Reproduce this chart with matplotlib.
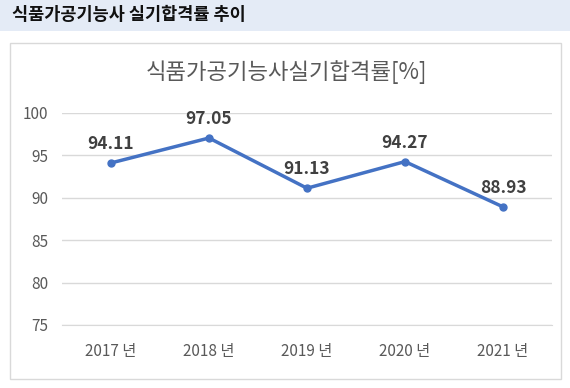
import matplotlib.pyplot as plt
from matplotlib.patches import Rectangle

plt.rcParams['font.family'] = ['Noto Sans CJK KR', 'DejaVu Sans']

years = ["2017 년", "2018 년", "2019 년", "2020 년", "2021 년"]
rates = [94.11, 97.05, 91.13, 94.27, 88.93]
yticks = [75, 80, 85, 90, 95, 100]

W, H = 570, 388
fig = plt.figure(figsize=(W / 100, H / 100), dpi=100)

# header bar
fig.patches.append(Rectangle((0, 1 - 31 / H), 1, 31 / H, transform=fig.transFigure,
                             facecolor="#E4EBF6", edgecolor="none", zorder=-2))
fig.text(12 / W, 1 - 15 / H, "식품가공기능사 실기합격률 추이", fontsize=12.6,
         fontweight="bold", color="#111111", va="center", ha="left")

# chart box
fig.patches.append(Rectangle((10 / W, 1 - 379 / H), 551 / W, 336 / H, transform=fig.transFigure,
                             facecolor="white", edgecolor="#D9D9D9", linewidth=1, zorder=-2))

ax = fig.add_axes([62 / W, 1 - 325 / H, 490 / W, 212 / H])
ax.set_zorder(2)
ax.set_facecolor("none")
x = list(range(len(years)))
ax.plot(x, rates, color="#4472C4", linewidth=2.5, marker="o", markersize=5, zorder=3)
for xi, v in zip(x, rates):
    ax.annotate(f"{v:.2f}", (xi, v), xytext=(0, 7), textcoords="offset points",
                ha="center", va="bottom", fontsize=12.5, fontweight="bold", color="#404040")

ax.set_xlim(-0.5, len(years) - 0.5)
ax.set_ylim(75, 100)
ax.set_yticks(yticks)
ax.set_xticks(x)
ax.set_xticklabels(years)
ax.grid(axis="y", color="#D9D9D9", linewidth=1)
ax.set_axisbelow(True)
for s in ["top", "right", "left"]:
    ax.spines[s].set_visible(False)
ax.spines["bottom"].set_color("#D9D9D9")
ax.tick_params(length=0, labelsize=11, colors="#595959")
ax.tick_params(axis="y", pad=10)
ax.tick_params(axis="x", pad=13)

fig.text(286 / W, 1 - 72 / H, "식품가공기능사실기합격률[%]", fontsize=16,
         color="#595959", ha="center", va="center")

fig.savefig("out.png", dpi=100)
